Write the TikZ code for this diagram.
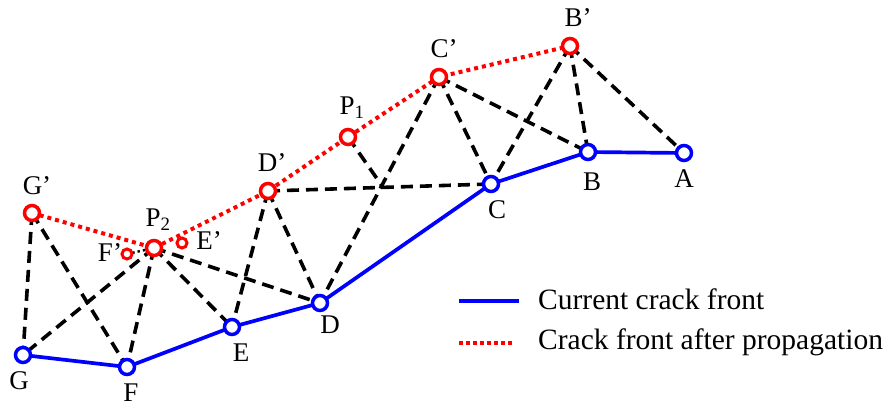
\documentclass[tikz,border=0pt]{standalone}
\usepackage{fontspec}
\setmainfont{Liberation Serif}
\usetikzlibrary{calc}
\pgfdeclarelayer{background}
\pgfsetlayers{background,main}
\definecolor{cblue}{RGB}{0,0,255}
\definecolor{cred}{RGB}{255,0,0}
\tikzset{
  bpt/.style={circle,draw=cblue,fill=white,line width=3.5pt,minimum size=15pt,inner sep=0pt},
  rpt/.style={circle,draw=cred,fill=white,line width=3.5pt,minimum size=15pt,inner sep=0pt},
  spt/.style={circle,draw=cred,fill=white,line width=3pt,minimum size=10pt,inner sep=0pt},
  dsh/.style={line width=3.6pt,dash pattern=on 12pt off 7pt},
  front/.style={cblue,line width=3.7pt},
  newfront/.style={cred,line width=4pt,dash pattern=on 4pt off 4pt},
  lbl/.style={font=\fontsize{27}{30}\selectfont,inner sep=0pt},
  leg/.style={font=\fontsize{29.5}{33}\selectfont,inner sep=0pt,anchor=west}
}
\begin{document}
\begin{tikzpicture}[x=1pt,y=-1pt]
\useasboundingbox (0,0) rectangle (887,409);
% points
\node[bpt] (A) at (684,153) {};
\node[bpt] (B) at (588,152) {};
\node[bpt] (C) at (491,184) {};
\node[bpt] (D) at (320,303) {};
\node[bpt] (E) at (232,327) {};
\node[bpt] (F) at (127,367) {};
\node[bpt] (G) at (23,355) {};
\node[rpt] (Bp) at (570,46) {};
\node[rpt] (Cp) at (439,77) {};
\node[rpt] (P1) at (348,137) {};
\node[rpt] (Dp) at (268,191) {};
\node[rpt] (P2) at (154,248) {};
\node[rpt] (Gp) at (32,213) {};
\node[spt] (Fp) at (127,254) {};
\node[spt] (Ep) at (182,243) {};
\coordinate (J1) at ($(Dp.center)!0.516!(C.center)$);
\begin{pgfonlayer}{background}
% dashed mesh
\draw[dsh] (Bp.center) -- (A.center);
\draw[dsh] (Bp.center) -- (B.center);
\draw[dsh] (Bp.center) -- (C.center);
\draw[dsh] (Cp.center) -- (B.center);
\draw[dsh] (Cp.center) -- (C.center);
\draw[dsh] (Cp.center) -- (D.center);
\draw[dsh] (Dp.center) -- (C.center);
\draw[dsh] (P1.center) -- (J1);
\draw[dsh] (Dp.center) -- (D.center);
\draw[dsh] (Dp.center) -- (E.center);
\draw[dsh] (P2.center) -- (D.center);
\draw[dsh] (P2.center) -- (E.center);
\draw[dsh] (P2.center) -- (F.center);
\draw[dsh] (P2.center) -- (G.center);
\draw[dsh] (Gp.center) -- (G.center);
\draw[dsh] (Gp.center) -- (F.center);
% fronts
\draw[front] (A.center) -- (B.center) -- (C.center) -- (D.center) -- (E.center) -- (F.center) -- (G.center);
\draw[newfront] (Gp.center) -- (P2.center) -- (Dp.center) -- (P1.center) -- (Cp.center) -- (Bp.center);
\draw[line width=2.4pt,dash pattern=on 2.4pt off 3pt] (Fp.center) -- (P2.center);
\end{pgfonlayer}
% labels
\node[lbl] (lA) at (684,179) {A};
\node[lbl] (lB) at (592,182) {B};
\node[lbl] (lC) at (497,210) {C};
\node[lbl] (lD) at (330,325) {D};
\node[lbl] (lE) at (241,353) {E};
\node[lbl] (lF) at (131,393) {F};
\node[lbl] (lG) at (19,381) {G};
\node[lbl] (lBp) at (578,18) {B’};
\node[lbl] (lCp) at (444,49) {C’};
\node[lbl] (lP1) at (352,108) {P\textsubscript{1}};
\node[lbl] (lDp) at (272,163) {D’};
\node[lbl] (lP2) at (158,220) {P\textsubscript{2}};
\node[lbl] (lGp) at (37,186) {G’};
\node[lbl] (lFp) at (110,253) {F’};
\node[lbl] (lEp) at (209,241) {E’};
% legend
\coordinate (l1a) at (459,301);
\coordinate (l1b) at (519,301);
\coordinate (l2a) at (459,343);
\coordinate (l2b) at (514,343);
\draw[front] (l1a) -- (l1b);
\draw[cred,line width=3.8pt,dash pattern=on 3.8pt off 3.2pt] (l2a) -- (l2b);
\node[leg] (t1) at (538,299) {Current crack front};
\node[leg] (t2) at (538,342) {Crack front after propagation};
\end{tikzpicture}
\end{document}
